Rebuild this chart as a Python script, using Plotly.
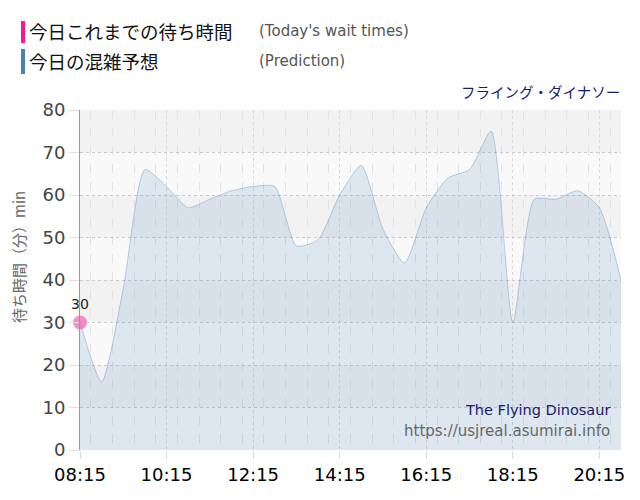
import pandas as pd
import plotly.graph_objects as go

# data: predicted wait times every 30 minutes (min)
times = [
    "08:15", "08:45", "09:15", "09:45", "10:15", "10:45", "11:15", "11:45",
    "12:15", "12:45", "13:15", "13:45", "14:15", "14:45", "15:15", "15:45",
    "16:15", "16:45", "17:15", "17:45", "18:15", "18:45", "19:15", "19:45",
    "20:15", "20:45",
]
prediction = [
    30, 16, 38, 66, 62, 57, 59, 61,
    62, 62, 48, 49.5, 60, 67, 52, 44,
    57, 64, 66, 75, 30, 59, 59, 61,
    57, 40,
]
actual_times = ["08:15"]
actual_waits = [30]
tick_labels = ["08:15", "10:15", "12:15", "14:15", "16:15", "18:15", "20:15"]

day = "2024-01-01 "
x_pred = pd.to_datetime([day + t for t in times])
x_act = pd.to_datetime([day + t for t in actual_times])
x_ticks = pd.to_datetime([day + t for t in tick_labels])

# page offset (body margin) and figure size
OFF = 8
W, H = 632, 492
# plot area wanted at page pixels x 80..621, y 110..450
L = 80 - OFF
T = 110 - OFF
R = W - (621 - OFF)
B = H - (450 - OFF)


def px(x, y):
    # page pixel -> paper coords
    return (x - OFF - L) / (W - L - R), (H - B - (y - OFF)) / (H - T - B)


fig = go.Figure()

fig.add_trace(
    go.Scatter(
        x=x_pred,
        y=prediction,
        mode="lines",
        line=dict(color="rgba(70,130,180,0.35)", width=1, shape="spline", smoothing=0.6),
        fill="tozeroy",
        fillcolor="rgba(70,130,180,0.15)",
        hoverinfo="skip",
        showlegend=False,
    )
)
fig.add_trace(
    go.Scatter(
        x=x_act,
        y=actual_waits,
        mode="markers+text",
        marker=dict(size=14, color="rgba(240,110,180,0.75)"),
        text=[str(v) for v in actual_waits],
        textposition="top center",
        textfont=dict(size=14, color="#222", family="DejaVu Sans"),
        cliponaxis=False,
        showlegend=False,
    )
)

# alternating background bands
shapes = []
for lo in range(0, 80, 10):
    shapes.append(
        dict(
            type="rect", xref="paper", yref="y", x0=0, x1=1, y0=lo, y1=lo + 10,
            fillcolor="#f2f2f2" if (lo // 10) % 2 == 1 else "#f9f9f9",
            line_width=0, layer="below",
        )
    )

# legend bars
for (y0, y1), c in [((21, 43), "#ff1493"), ((49, 74), "#4682b4")]:
    a0 = px(21, y0)
    a1 = px(25, y1)
    shapes.append(
        dict(type="rect", xref="paper", yref="paper", x0=a0[0], x1=a1[0],
             y0=a0[1], y1=a1[1], fillcolor=c, line_width=0)
    )

jp = "Noto Sans CJK JP"
annots = []


def note(text, x, y, size, color, xanchor="left", family=jp, angle=0):
    p = px(x, y)
    annots.append(
        dict(text=text, x=p[0], y=p[1], xref="paper", yref="paper",
             xanchor=xanchor, yanchor="middle", showarrow=False,
             textangle=angle, font=dict(size=size, color=color, family=family))
    )


note("今日これまでの待ち時間", 27, 31, 18.5, "#111")
note("(Today's wait times)", 257, 31, 15, "#555", family="DejaVu Sans")
note("今日の混雑予想", 27, 61, 18.5, "#111")
note("(Prediction)", 257, 61, 15, "#555", family="DejaVu Sans")
note("フライング・ダイナソー", 622, 92, 14.5, "#191970", xanchor="right")
note("The Flying Dinosaur", 612, 410, 14.5, "#191970", xanchor="right", family="DejaVu Sans")
note("https://usjreal.asumirai.info", 612, 431, 15, "#666", xanchor="right", family="DejaVu Sans")
note("待ち時間（分）min", 18, 257, 15, "#666", xanchor="center", angle=-90)

fig.update_layout(
    width=W,
    height=H,
    margin=dict(l=L, r=R, t=T, b=B),
    paper_bgcolor="white",
    plot_bgcolor="white",
    shapes=shapes,
    annotations=annots,
    xaxis=dict(
        range=[pd.Timestamp(day + "08:15"), pd.Timestamp(day + "20:45")],
        tickvals=x_ticks,
        ticktext=tick_labels,
        tickfont=dict(size=18, color="#000", family="DejaVu Sans"),
        showgrid=True,
        gridcolor="#d8d8d8",
        griddash="dot",
        ticks="outside",
        ticklen=8,
        tickcolor="#ddd",
        minor=dict(dtick=30 * 60 * 1000, showgrid=True, gridcolor="#e2e2e2", griddash="dash"),
        showline=False,
        zeroline=False,
    ),
    yaxis=dict(
        range=[0, 80],
        dtick=10,
        tickfont=dict(size=18, color="#444", family="DejaVu Sans"),
        gridcolor="#cccccc",
        griddash="dot",
        ticks="outside",
        ticklen=10,
        tickcolor="#e0e0e0",
        showline=True,
        linecolor="#999",
        linewidth=1,
        zeroline=False,
    ),
)

fig.write_html("out.html")
